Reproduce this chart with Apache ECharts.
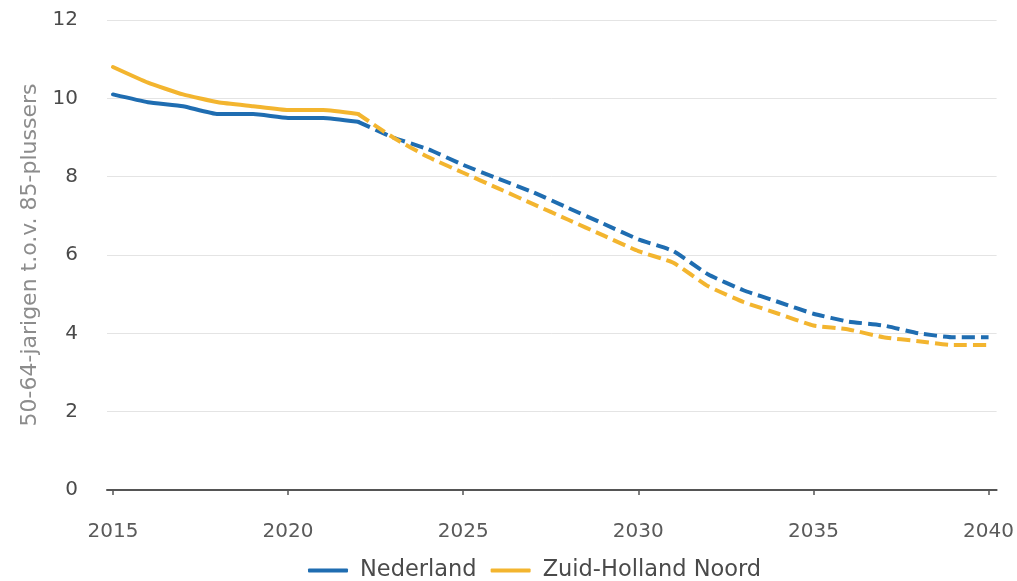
<!DOCTYPE html>
<html>
<head>
<meta charset="utf-8">
<script src="https://cdn.jsdelivr.net/npm/echarts@6/dist/echarts.min.js"></script>
<style>
  html, body { margin: 0; padding: 0; background: #fff; }
  #chart { width: 1017px; height: 581px; }
</style>
</head>
<body>
<div id="chart"></div>
<script>
// Years and ratio of 50-64-year-olds to 85-plus residents
const years = [2015, 2016, 2017, 2018, 2019, 2020, 2021, 2022, 2023, 2024, 2025, 2026, 2027,
               2028, 2029, 2030, 2031, 2032, 2033, 2034, 2035, 2036, 2037, 2038, 2039, 2040];
const nederland = [10.1, 9.9, 9.8, 9.6, 9.6, 9.5, 9.5, 9.4, 9.0, 8.7, 8.3, 7.95, 7.6,
                   7.2, 6.8, 6.4, 6.1, 5.5, 5.1, 4.8, 4.5, 4.3, 4.2, 4.0, 3.9, 3.9];
const zuidHollandNoord = [10.8, 10.4, 10.1, 9.9, 9.8, 9.7, 9.7, 9.6, 9.0, 8.5, 8.1, 7.7, 7.3,
                          6.9, 6.5, 6.1, 5.8, 5.2, 4.8, 4.5, 4.2, 4.1, 3.9, 3.8, 3.7, 3.7];
const forecastFrom = 2022;           // later years are projections (dashed)
const xTicks = [2015, 2020, 2025, 2030, 2035, 2040];

const names = ['Nederland', 'Zuid-Holland Noord'];
const colors = ['#1f6db1', '#f3b52f'];
const values = [nederland, zuidHollandNoord];

function part(vals, observed) {
  return years.map((y, i) => {
    const keep = observed ? y <= forecastFrom : y >= forecastFrom;
    return keep ? [y, vals[i]] : [y, null];
  });
}

const series = [];
values.forEach((vals, k) => {
  series.push({
    name: names[k], type: 'line', data: part(vals, true),
    showSymbol: false, symbol: 'none', smooth: 0.15, connectNulls: false,
    lineStyle: { color: colors[k], width: 4, cap: 'round', join: 'round' },
    itemStyle: { color: colors[k] }, z: 3 + k
  });
  series.push({
    name: names[k], type: 'line', data: part(vals, false),
    showSymbol: false, symbol: 'none', smooth: 0.15, connectNulls: false,
    lineStyle: { color: colors[k], width: 4, type: [13, 6], join: 'round' },
    itemStyle: { color: colors[k] }, z: 3 + k
  });
});

const chart = echarts.init(document.getElementById('chart'), null, { renderer: 'canvas' });
const font = "'DejaVu Sans', Verdana, sans-serif";
chart.setOption({
  animation: false,
  backgroundColor: '#ffffff',
  textStyle: { fontFamily: font },
  grid: { left: 107, right: 18, top: 20, bottom: 91, containLabel: false },
  xAxis: {
    type: 'value', min: 2014.83, max: 2040.23,
    axisLine: { show: true, lineStyle: { color: '#555', width: 2 } },
    axisTick: { show: true, customValues: xTicks, length: 5, inside: false, lineStyle: { color: '#555', width: 1.5 } },
    axisLabel: { customValues: xTicks, formatter: v => String(v), margin: 32,
                 color: '#5a5a5a', fontSize: 20, fontFamily: font },
    splitLine: { show: false }
  },
  yAxis: {
    type: 'value', min: 0, max: 12, interval: 2,
    name: '50-64-jarigen t.o.v. 85-plussers',
    nameLocation: 'middle', nameGap: 65, nameRotate: 90,
    nameTextStyle: { color: '#8c8c8c', fontSize: 22, fontFamily: font },
    axisLine: { show: false }, axisTick: { show: false },
    axisLabel: { color: '#4a4a4a', fontSize: 20, margin: 29, fontFamily: font },
    splitLine: { lineStyle: { color: '#e4e4e4', width: 1 } }
  },
  legend: {
    top: 554, left: 303, itemGap: 14,
    data: names.map((n, k) => ({ name: n, icon: 'roundRect', itemStyle: { color: colors[k] } })),
    itemWidth: 40, itemHeight: 4,
    textStyle: { color: '#4a4a4a', fontSize: 22.5, fontFamily: font, padding: [0, 0, 0, 7] }
  },
  series: series
});
</script>
</body>
</html>
